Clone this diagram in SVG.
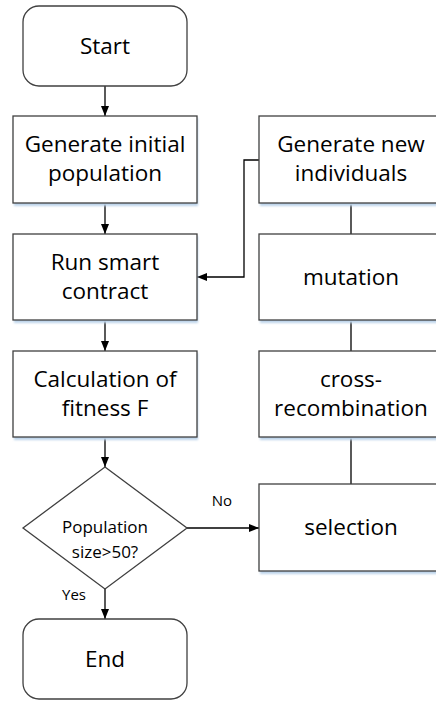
<svg xmlns="http://www.w3.org/2000/svg" width="436" height="701" viewBox="0 0 436 701">
<defs>
<marker id="ah" viewBox="0 0 10 8" refX="10" refY="4" markerWidth="10" markerHeight="8" markerUnits="userSpaceOnUse" orient="auto">
<path d="M0,0 L10,4 L0,8 Z" fill="#000"/>
</marker>
<filter id="sh" x="-10%" y="-10%" width="120%" height="130%">
<feGaussianBlur stdDeviation="1.2"/>
</filter>
</defs>
<style>
.box{fill:#fff;stroke:#404040;stroke-width:1.3}
.shd{fill:#bcd3ea;stroke:none;filter:url(#sh)}
.t{font-family:"Open Sans","Liberation Sans",sans-serif;font-size:22.5px;fill:#000;text-anchor:middle}
.s{font-family:"Open Sans","Liberation Sans",sans-serif;font-size:15px;fill:#000;text-anchor:middle}
.d{font-family:"Open Sans","Liberation Sans",sans-serif;font-size:17px;fill:#000;text-anchor:middle}
.c{fill:none;stroke:#000;stroke-width:1.3}
.ca{fill:none;stroke:#000;stroke-width:1.3;marker-end:url(#ah)}
</style>
<rect width="436" height="701" fill="#fff"/>
<g id="connectors">
<line class="ca" x1="105" y1="86" x2="105" y2="116"/>
<line class="ca" x1="105" y1="203" x2="105" y2="234"/>
<line class="ca" x1="105" y1="320" x2="105" y2="351"/>
<line class="ca" x1="105" y1="437" x2="105" y2="467"/>
<line class="ca" x1="105" y1="589" x2="105" y2="619"/>
<line class="ca" x1="187" y1="528" x2="259" y2="528"/>
<polyline class="ca" points="259,160 244,160 244,277 197,277"/>
<line class="c" x1="351" y1="203" x2="351" y2="234"/>
<line class="c" x1="351" y1="320" x2="351" y2="351"/>
<line class="c" x1="351" y1="437" x2="351" y2="484"/>
<text class="s" x="222" y="506">No</text>
<text class="s" x="74" y="600">Yes</text>
</g>
<g id="start">
<rect class="box" x="23" y="6" width="164" height="80" rx="16"/>
<text class="t" x="105" y="54">Start</text>
</g>
<g id="generate-initial">
<rect class="shd" x="14" y="118" width="184" height="88"/>
<rect class="box" x="13" y="116" width="184" height="87"/>
<text class="t" x="105" y="152">Generate initial</text>
<text class="t" x="105" y="181">population</text>
</g>
<g id="run-smart-contract">
<rect class="shd" x="14" y="236" width="184" height="87"/>
<rect class="box" x="13" y="234" width="184" height="86"/>
<text class="t" x="105" y="270">Run smart</text>
<text class="t" x="105" y="299">contract</text>
</g>
<g id="calc-fitness">
<rect class="shd" x="14" y="353" width="184" height="87"/>
<rect class="box" x="13" y="351" width="184" height="86"/>
<text class="t" x="105" y="387">Calculation of</text>
<text class="t" x="105" y="416">fitness F</text>
</g>
<g id="decision">
<polygon class="box" points="105,467 187,528 105,589 23,528"/>
<text class="d" x="105" y="533">Population</text>
<text class="d" x="105" y="558">size&gt;50?</text>
</g>
<g id="end">
<rect class="box" x="23" y="619" width="164" height="80" rx="16"/>
<text class="t" x="105" y="667">End</text>
</g>
<g id="generate-new">
<rect class="shd" x="260" y="118" width="200" height="88"/>
<rect class="box" x="259" y="116" width="200" height="87"/>
<text class="t" x="351" y="152">Generate new</text>
<text class="t" x="351" y="181">individuals</text>
</g>
<g id="mutation">
<rect class="shd" x="260" y="236" width="200" height="87"/>
<rect class="box" x="259" y="234" width="200" height="86"/>
<text class="t" x="351" y="285">mutation</text>
</g>
<g id="cross-recombination">
<rect class="shd" x="260" y="353" width="200" height="87"/>
<rect class="box" x="259" y="351" width="200" height="86"/>
<text class="t" x="351" y="387">cross-</text>
<text class="t" x="351" y="416">recombination</text>
</g>
<g id="selection">
<rect class="shd" x="260" y="486" width="200" height="88"/>
<rect class="box" x="259" y="484" width="200" height="87"/>
<text class="t" x="351" y="535">selection</text>
</g>
</svg>
